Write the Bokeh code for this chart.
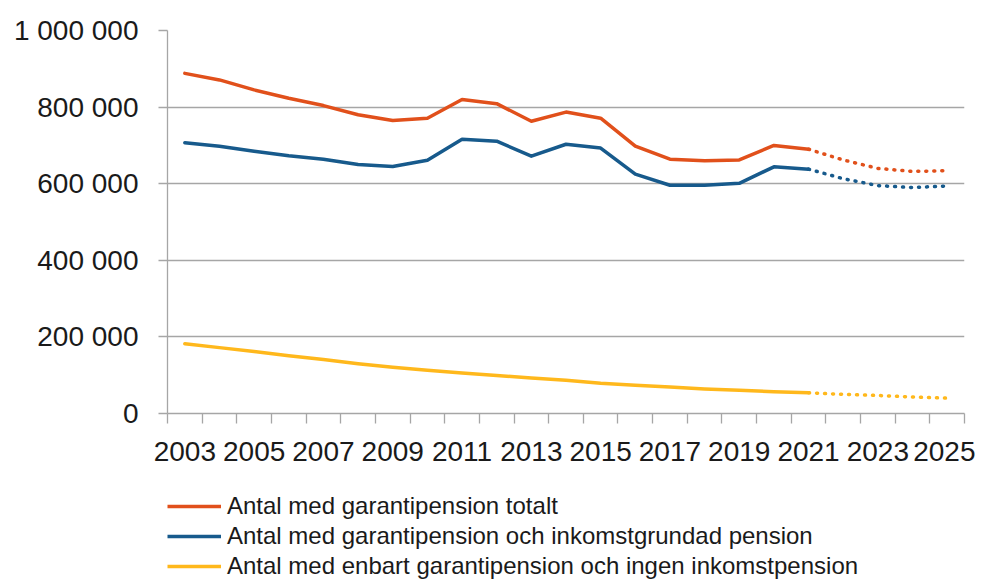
from bokeh.plotting import figure
from bokeh.layouts import column
from bokeh.models import Range1d, FixedTicker, Legend, LegendItem
from bokeh.embed import file_html
from bokeh.resources import INLINE

# ---- data ----
years = list(range(2003, 2026))
last_actual = 2021
totalt = [888000, 871000, 845000, 823000, 804000, 780000, 765000, 771000, 820000, 809000,
          763000, 787000, 771000, 698000, 664000, 660000, 662000, 700000, 690000,
          662000, 640000, 632000, 634000]
inkomst = [707000, 698000, 685000, 673000, 664000, 650000, 645000, 661000, 716000, 711000,
           672000, 703000, 693000, 625000, 596000, 596000, 601000, 644000, 638000,
           613000, 595000, 590000, 594000]
enbart = [182000, 172000, 162000, 151000, 141000, 130000, 121000, 113000, 106000, 99000,
          93000, 87000, 79000, 74000, 69000, 64000, 61000, 57000, 54000,
          50000, 47000, 43000, 40000]
series_names = ["Antal med garantipension totalt",
                "Antal med garantipension och inkomstgrundad pension",
                "Antal med enbart garantipension och ingen inkomstpension"]
y_tick_values = [0, 200000, 400000, 600000, 800000, 1000000]
y_tick_labels = ["0", "200 000", "400 000", "600 000", "800 000", "1 000 000"]
x_label_years = list(range(2003, 2026, 2))

colors = ["#E1501B", "#175A8C", "#FFB81C"]
FONT = "Liberation Sans"

p = figure(width=975, height=491, output_backend="svg", toolbar_location=None,
           x_range=Range1d(years[0] - 0.5, years[-1] + 0.5),
           y_range=Range1d(0, 1000000),
           min_border_left=167, min_border_right=11, min_border_top=30, min_border_bottom=78)
p.outline_line_color = None
p.background_fill_color = "white"
p.border_fill_color = "white"

idx = years.index(last_actual)
for vals, col in zip([totalt, inkomst, enbart], colors):
    p.line(years[:idx + 1], vals[:idx + 1], line_color=col, line_width=3.5,
           line_join="round", line_cap="round")
    p.line(years[idx:], vals[idx:], line_color=col, line_width=3.5,
           line_dash="1 7", line_cap="round")

# x axis
boundaries = [y - 0.5 for y in years] + [years[-1] + 0.5]
p.xaxis.ticker = FixedTicker(ticks=x_label_years, minor_ticks=boundaries)
p.xaxis.major_tick_out = 0
p.xaxis.major_tick_in = 0
p.xaxis.minor_tick_out = 10
p.xaxis.minor_tick_in = 0
p.xaxis.minor_tick_line_color = "#a6a6a6"
p.xaxis.minor_tick_line_width = 1.3
p.xaxis.axis_line_color = "#a6a6a6"
p.xaxis.axis_line_width = 1.3
p.xaxis.major_label_text_font = FONT
p.xaxis.major_label_text_font_size = "28px"
p.xaxis.major_label_text_color = "#1a1a1a"
p.xaxis.major_label_standoff = 18
p.xgrid.grid_line_color = None

# y axis
p.yaxis.ticker = FixedTicker(ticks=y_tick_values)
p.yaxis.major_label_overrides = {v: l for v, l in zip(y_tick_values, y_tick_labels)}
p.yaxis.major_tick_out = 9
p.yaxis.major_tick_in = 0
p.yaxis.minor_tick_out = 0
p.yaxis.minor_tick_in = 0
p.yaxis.major_tick_line_color = "#a6a6a6"
p.yaxis.major_tick_line_width = 1.3
p.yaxis.axis_line_color = "#a6a6a6"
p.yaxis.axis_line_width = 1.3
p.yaxis.major_label_text_font = FONT
p.yaxis.major_label_text_font_size = "28px"
p.yaxis.major_label_text_color = "#1a1a1a"
p.yaxis.major_label_standoff = 20
p.ygrid.grid_line_color = "#a6a6a6"
p.ygrid.grid_line_width = 1.3

# legend in its own strip below the chart
lg = figure(width=975, height=88, output_backend="svg", toolbar_location=None,
            x_range=Range1d(0, 1), y_range=Range1d(0, 1),
            x_axis_type=None, y_axis_type=None,
            min_border_left=166, min_border_right=0, min_border_top=0, min_border_bottom=0)
lg.outline_line_color = None
lg.xgrid.grid_line_color = None
lg.ygrid.grid_line_color = None
items = []
for col, name in zip(colors, series_names):
    # proxy line kept outside the visible range; only its legend swatch shows
    r = lg.line([-5, -4], [-5, -4], line_color=col, line_width=3.5)
    items.append(LegendItem(label=name, renderers=[r]))
legend = Legend(items=items, location="top_left", orientation="vertical",
                label_text_font=FONT, label_text_font_size="24px",
                label_text_color="#1a1a1a", glyph_width=54, glyph_height=30,
                label_height=30, label_standoff=6, spacing=0, padding=0, margin=0,
                background_fill_alpha=0, border_line_color=None)
lg.add_layout(legend, "center")

layout = column(p, lg, spacing=0)
open("out.html", "w").write(file_html(layout, INLINE))
